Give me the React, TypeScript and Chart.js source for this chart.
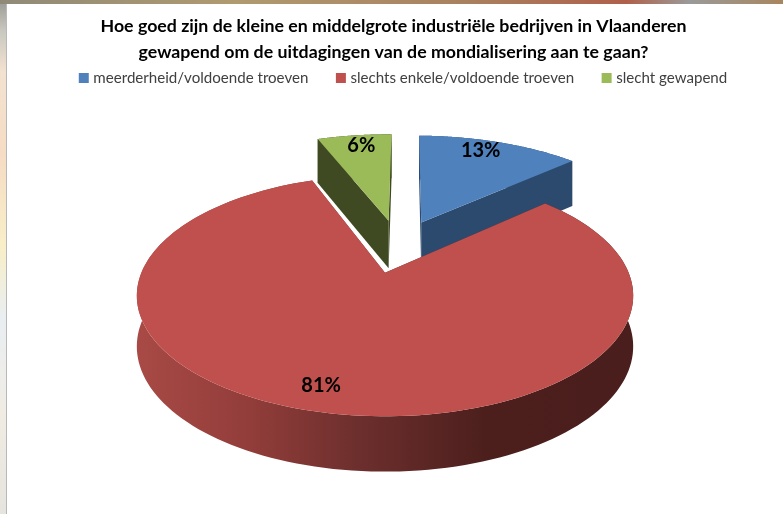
import React, { useEffect, useRef } from "react";
import { Chart, registerables } from "chart.js";

Chart.register(...registerables);

const titleLines = [
  "Hoe goed zijn de kleine en middelgrote industriële bedrijven in Vlaanderen",
  "gewapend om de uitdagingen van de mondialisering aan te gaan?",
];
const categories = ["meerderheid/voldoende troeven", "slechts enkele/voldoende troeven", "slecht gewapend"];
const shares = [13, 81, 6];
const faceColors = ["#4f81bd", "#c0504d", "#9bbb59"];
const wallColors = ["#2c4a6e", "#6f302e", "#3f4a22"];
const redWallStops: [number, string][] = [
  [0, "#a94a46"],
  [0.23, "#923d3a"],
  [0.43, "#6f302e"],
  [0.7, "#4c1f1d"],
  [1, "#4a1e1c"],
];
const labelRadii = [0.9, 0.85, 0.91];
const labelTurnDegrees = [-3, 1.5, 1];
const sliceScale = [1.05, 1, 1.05];

const EXPLOSION = 0.25;
const TILT = 0.19;
const X_SCALE = 1.375;
const Y_SCALE = 0.656;
const DEPTH = 0.281;
const TITLE_SHIFT = 8.5;
const LEGEND_SHIFT = 19.5;

const pie3d = {
  id: "pie3d",
  afterLayout(chart: any) {
    chart.titleBlock.left += TITLE_SHIFT;
    chart.titleBlock.right += TITLE_SHIFT;
    chart.legend.left += LEGEND_SHIFT;
    chart.legend.right += LEGEND_SHIFT;
  },
  beforeDatasetsDraw(chart: any) {
    const ctx: CanvasRenderingContext2D = chart.ctx;
    const arcs: any[] = chart.getDatasetMeta(0).data;
    const main = arcs.reduce((a, b) => (b.circumference > a.circumference ? b : a));
    const mid = (a: any) => (a.startAngle + a.endAngle) / 2;
    const R = main.outerRadius;
    const ox = main.x;
    const oy = main.y;
    const pr = (u: number, v: number, down = false) => {
      const s = 1 / (1 - TILT * v);
      return {
        x: ox + X_SCALE * R * u * s,
        y: oy + Y_SCALE * R * v * s + (down ? DEPTH * R * Math.sqrt(s) : 0),
      };
    };
    const shift = (arc: any) => ({
      u: EXPLOSION * (Math.cos(mid(arc)) - Math.cos(mid(main))),
      v: EXPLOSION * (Math.sin(mid(arc)) - Math.sin(mid(main))),
    });
    const rim = (arc: any, scale: number, down: boolean) => {
      const c = shift(arc);
      const out: { x: number; y: number }[] = [];
      const steps = 160;
      for (let k = 0; k <= steps; k++) {
        const t = arc.startAngle + ((arc.endAngle - arc.startAngle) * k) / steps;
        out.push(pr(c.u + scale * Math.cos(t), c.v + scale * Math.sin(t), down));
      }
      return out;
    };
    const fillPoly = (pts: { x: number; y: number }[], style: any) => {
      ctx.beginPath();
      pts.forEach((p, i) => (i ? ctx.lineTo(p.x, p.y) : ctx.moveTo(p.x, p.y)));
      ctx.closePath();
      ctx.fillStyle = style;
      ctx.fill();
    };

    const order = arcs.map((_, i) => i).sort((a, b) => arcs[a].circumference - arcs[b].circumference);
    ctx.save();
    for (const i of order) {
      const arc = arcs[i];
      const c = shift(arc);
      let wall: any = wallColors[i];
      if (arc === main) {
        const g = ctx.createLinearGradient(ox - 1.03 * X_SCALE * R, 0, ox + 1.03 * X_SCALE * R, 0);
        redWallStops.forEach(([p, col]) => g.addColorStop(p, col));
        wall = g;
      }
      const apexTop = pr(c.u, c.v);
      const apexLow = pr(c.u, c.v, true);
      const top = rim(arc, sliceScale[i], false);
      const low = rim(arc, sliceScale[i], true);
      fillPoly([apexTop, top[0], low[0], apexLow], wall);
      fillPoly([apexTop, top[top.length - 1], low[low.length - 1], apexLow], wall);
      fillPoly([...top, ...low.slice().reverse()], wall);
      fillPoly([apexTop, ...top], faceColors[i]);
    }
    ctx.fillStyle = "#000000";
    ctx.font = "bold 20px Lato";
    ctx.textAlign = "center";
    ctx.textBaseline = "middle";
    arcs.forEach((arc, i) => {
      const c = shift(arc);
      const a = mid(arc) + (labelTurnDegrees[i] * Math.PI) / 180;
      const p = pr(c.u + labelRadii[i] * Math.cos(a), c.v + labelRadii[i] * Math.sin(a));
      ctx.fillText(`${shares[i]}%`, p.x, p.y);
    });
    ctx.restore();
    return false;
  },
};

export default function App() {
  const ref = useRef<HTMLCanvasElement>(null);
  useEffect(() => {
    const chart = new Chart(ref.current!, {
      type: "pie",
      data: {
        labels: categories,
        datasets: [{ data: shares, backgroundColor: faceColors, borderWidth: 0 }],
      },
      options: {
        animation: false,
        responsive: false,
        rotation: 1,
        layout: { padding: { left: 0, right: 30, top: 0, bottom: 64 } },
        plugins: {
          tooltip: { enabled: false },
          title: {
            display: true,
            text: titleLines,
            color: "#000000",
            font: { family: "Lato", size: 17.75, weight: "bold", lineHeight: 1.45 },
            padding: { top: 13.5, bottom: -25 },
          },
          legend: {
            position: "top",
            labels: {
              usePointStyle: true,
              pointStyle: "rect",
              boxWidth: 4,
              boxHeight: 10,
              padding: 30.5,
              color: "#404040",
              font: { family: "Lato", size: 15.1 },
            },
          },
        },
      },
      plugins: [pie3d],
    } as any);
    return () => chart.destroy();
  }, []);
  return (
    <div style={{ position: "fixed", left: 0, top: 0, width: 783, height: 514, overflow: "hidden", background: "#ffffff" }}>
      <div
        style={{
          position: "absolute",
          left: 0,
          top: 0,
          width: 6,
          height: 514,
          background:
            "linear-gradient(180deg,#9a9a94 0%,#c8c8c0 6%,#f3e2d0 14%,#f6dcc4 30%,#f8efc8 48%,#e9eef2 62%,#f0ece4 80%,#e6e4de 100%)",
        }}
      />
      <div style={{ position: "absolute", left: 6, top: 0, width: 1, height: 514, background: "#b8b8b8" }} />
      <div
        style={{
          position: "absolute",
          left: 0,
          top: 0,
          width: 783,
          height: 4,
          background:
            "linear-gradient(90deg,#8f8a78 0%,#b09a70 30%,#a9805e 60%,#b0604a 80%,#9a9a9a 88%,#a8865e 100%)",
        }}
      />
      <canvas ref={ref} width={784} height={514} style={{ position: "absolute", left: 8, top: 0 }} />
    </div>
  );
}
